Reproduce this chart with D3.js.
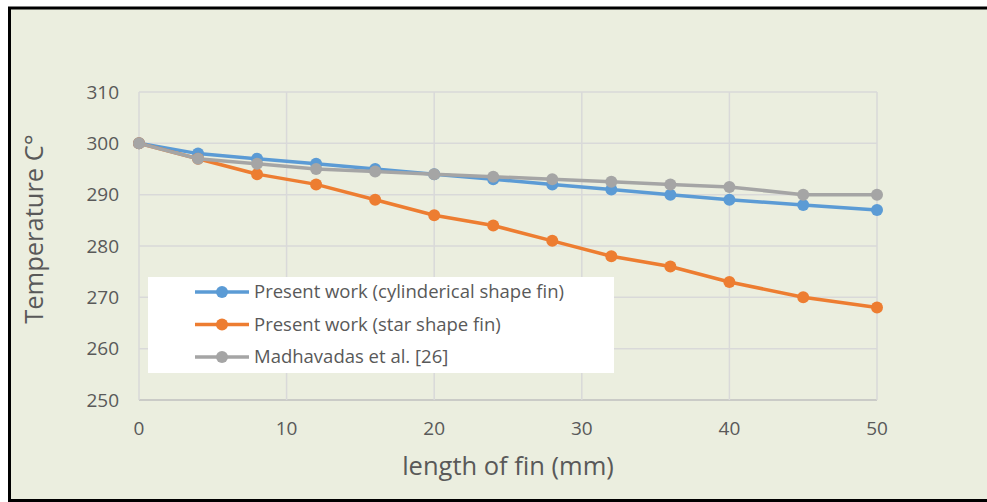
<html>
    <head>
        <style>
            body { margin: 0; background: #fff; }
            .chart text { font-family: "Open Sans", sans-serif; fill: #595959; }
        </style>
    </head>
    <body>
        <svg class="chart" width="987" height="502"></svg>
        <script src="https://d3js.org/d3.v7.min.js"></script>
        <script>
            // values
            var lengths = [0, 4, 8, 12, 16, 20, 24, 28, 32, 36, 40, 45, 50];
            var cylinder = [300, 298, 297, 296, 295, 294, 293, 292, 291, 290, 289, 288, 287];
            var star = [300, 297, 294, 292, 289, 286, 284, 281, 278, 276, 273, 270, 268];
            var madhavadas = [300, 297, 296, 295, 294.5, 294, 293.5, 293, 292.5, 292, 291.5, 290, 290];
            var seriesNames = ["Present work (cylinderical shape fin)", "Present work (star shape fin)", "Madhavadas et al. [26]"];
            var seriesColors = ["#5B9BD5", "#ED7D31", "#A5A5A5"];
            var xTicks = [0, 10, 20, 30, 40, 50];
            var yTicks = [250, 260, 270, 280, 290, 300, 310];

            var chart = d3.select('.chart');

            // frame
            chart.append('rect')
                .attr('x', 9.5).attr('y', 8)
                .attr('width', 1000).attr('height', 492.5)
                .style('fill', '#EBEEDF')
                .style('stroke', '#000')
                .style('stroke-width', 3);

            var xScale = d3.scaleLinear().domain([0, 50]).range([139, 877]);
            var yScale = d3.scaleLinear().domain([250, 310]).range([400, 92]);

            // grid
            chart.selectAll('.hgrid').data(yTicks).enter().append('line')
                .attr('x1', xScale(0)).attr('x2', xScale(50))
                .attr('y1', function(d) { return yScale(d); })
                .attr('y2', function(d) { return yScale(d); })
                .style('stroke', function(d) { return d == 250 ? '#BFBFBF' : '#D9D9D9'; })
                .style('stroke-width', 1.5);

            chart.selectAll('.vgrid').data(xTicks).enter().append('line')
                .attr('x1', function(d) { return xScale(d); })
                .attr('x2', function(d) { return xScale(d); })
                .attr('y1', yScale(310)).attr('y2', yScale(250))
                .style('stroke', '#D9D9D9')
                .style('stroke-width', 1.5);

            // tick labels
            chart.selectAll('.ylab').data(yTicks).enter().append('text')
                .attr('x', 119)
                .attr('y', function(d) { return yScale(d); })
                .attr('dy', '0.35em')
                .attr('text-anchor', 'end')
                .style('font-size', '19px')
                .text(function(d) { return d; });

            chart.selectAll('.xlab').data(xTicks).enter().append('text')
                .attr('x', function(d) { return xScale(d); })
                .attr('y', 428)
                .attr('dy', '0.35em')
                .attr('text-anchor', 'middle')
                .style('font-size', '19px')
                .text(function(d) { return d; });

            // axis titles
            chart.append('text')
                .attr('x', 508).attr('y', 466)
                .attr('dy', '0.35em')
                .attr('text-anchor', 'middle')
                .style('font-size', '25.5px')
                .text('length of fin (mm)');

            chart.append('text')
                .attr('transform', 'translate(34,229) rotate(-90)')
                .attr('dy', '0.35em')
                .attr('text-anchor', 'middle')
                .style('font-size', '25.5px')
                .text('Temperature C°');

            // series
            var series = [cylinder, star, madhavadas];
            var line = d3.line()
                .x(function(d, i) { return xScale(lengths[i]); })
                .y(function(d) { return yScale(d); });

            series.forEach(function(values, k) {
                chart.append('path')
                    .datum(values)
                    .attr('d', line)
                    .style('fill', 'none')
                    .style('stroke', seriesColors[k])
                    .style('stroke-width', 3.5);

                chart.selectAll('.pt' + k).data(values).enter().append('circle')
                    .attr('cx', function(d, i) { return xScale(lengths[i]); })
                    .attr('cy', function(d) { return yScale(d); })
                    .attr('r', 6)
                    .style('fill', seriesColors[k]);
            });

            // legend
            var legend = chart.append('g').attr('transform', 'translate(148,277)');
            legend.append('rect')
                .attr('width', 466).attr('height', 96)
                .style('fill', '#fff');

            var items = legend.selectAll('g').data(seriesNames).enter().append('g')
                .attr('transform', function(d, i) { return 'translate(0,' + (15 + i * 32.5) + ')'; });

            items.append('line')
                .attr('x1', 47).attr('x2', 101)
                .style('stroke', function(d, i) { return seriesColors[i]; })
                .style('stroke-width', 3.5);
            items.append('circle')
                .attr('cx', 74).attr('r', 6)
                .style('fill', function(d, i) { return seriesColors[i]; });
            items.append('text')
                .attr('x', 106)
                .attr('dy', '0.35em')
                .style('font-size', '18.5px')
                .text(function(d) { return d; });
        </script>
    </body>
</html>
